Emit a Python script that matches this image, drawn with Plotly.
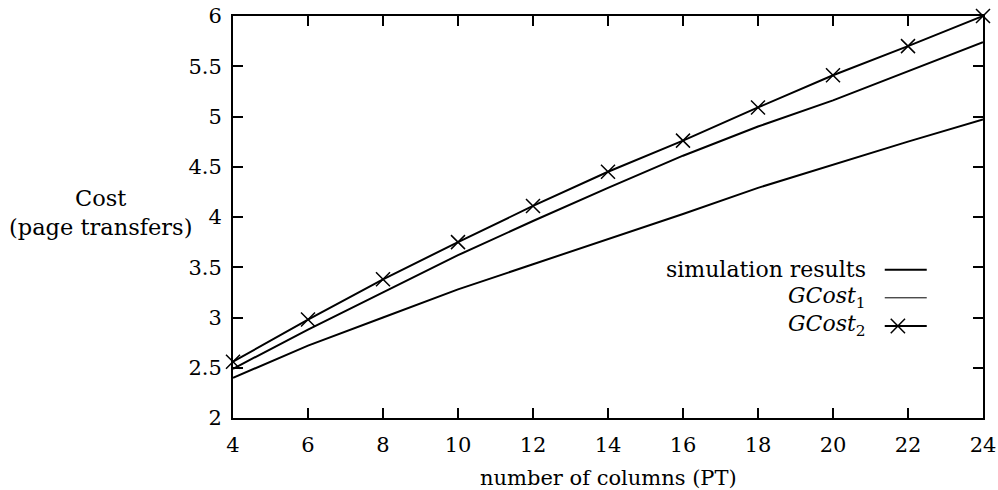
import plotly.graph_objects as go

columns = [4, 6, 8, 10, 12, 14, 16, 18, 20, 22, 24]
simulation = [2.40, 2.72, 3.00, 3.28, 3.53, 3.78, 4.03, 4.29, 4.52, 4.75, 4.97]
gcost1 = [2.49, 2.88, 3.25, 3.62, 3.96, 4.29, 4.61, 4.90, 5.16, 5.45, 5.74]
gcost2 = [2.56, 2.98, 3.38, 3.75, 4.11, 4.45, 4.76, 5.09, 5.41, 5.70, 6.00]

x_ticks = [4, 6, 8, 10, 12, 14, 16, 18, 20, 22, 24]
y_ticks = [2, 2.5, 3, 3.5, 4, 4.5, 5, 5.5, 6]
y_tick_text = ["2", "2.5", "3", "3.5", "4", "4.5", "5", "5.5", "6"]

FONT = "DejaVu Serif"
FS = 21

fig = go.Figure()
fig.add_trace(go.Scatter(x=columns, y=simulation, mode="lines",
                         line=dict(color="black", width=2), name="simulation results"))
fig.add_trace(go.Scatter(x=columns, y=gcost1, mode="lines",
                         line=dict(color="black", width=2), name="GCost1"))
fig.add_trace(go.Scatter(x=columns, y=gcost2, mode="lines+markers",
                         line=dict(color="black", width=2),
                         marker=dict(symbol="x-thin-open", size=14,
                                     line=dict(color="black", width=1.5)),
                         name="GCost2", cliponaxis=False))

axis_common = dict(showgrid=False, zeroline=False, showline=True, linecolor="black",
                   linewidth=2, mirror="ticks", ticks="inside", ticklen=10,
                   tickwidth=2, tickcolor="black", automargin=False,
                   tickfont=dict(family=FONT, size=FS, color="black"))

fig.update_xaxes(range=[4, 24], tickvals=x_ticks, ticklabelstandoff=7, **axis_common)
fig.update_yaxes(range=[2, 6], tickvals=y_ticks, ticktext=y_tick_text,
                 ticklabelstandoff=5, **axis_common)

# axis titles
fig.add_annotation(text="number of columns (PT)", xref="paper", yref="paper",
                   x=0.5, y=-0.15, yanchor="middle", showarrow=False,
                   font=dict(family=FONT, size=21, color="black"))
fig.add_annotation(text="Cost<br>(page transfers)", xref="paper", yref="paper",
                   x=-0.177, xanchor="center", y=0.51, yanchor="middle", showarrow=False,
                   align="center", font=dict(family=FONT, size=22.5, color="black"))

# manual legend (text left of sample, gnuplot style)
leg_names = ["simulation results", "<i>GCost</i><sub>1</sub>", "<i>GCost</i><sub>2</sub>"]
leg_y = [0.369, 0.299, 0.229]
leg_widths = [2, 1, 2]
for name, yy, w in zip(leg_names, leg_y, leg_widths):
    fig.add_annotation(text=name, xref="paper", yref="paper", x=0.847, xanchor="right",
                       y=yy, yanchor="middle", showarrow=False,
                       font=dict(family=FONT, size=22, color="black"))
    fig.add_shape(type="line", xref="paper", yref="paper", x0=0.869, x1=0.925,
                  y0=yy, y1=yy, line=dict(color="black", width=w))
# X marker in legend
cx, cy = 0.8865, 0.229
dx, dy = 0.0095, 0.018
fig.add_shape(type="line", xref="paper", yref="paper", x0=cx - dx, x1=cx + dx,
              y0=cy - dy, y1=cy + dy, line=dict(color="black", width=1.5))
fig.add_shape(type="line", xref="paper", yref="paper", x0=cx - dx, x1=cx + dx,
              y0=cy + dy, y1=cy - dy, line=dict(color="black", width=1.5))

fig.update_layout(width=998, height=490, showlegend=False,
                  paper_bgcolor="white", plot_bgcolor="white",
                  margin=dict(l=233, r=15, t=16, b=72))

fig.write_html("out.html")
